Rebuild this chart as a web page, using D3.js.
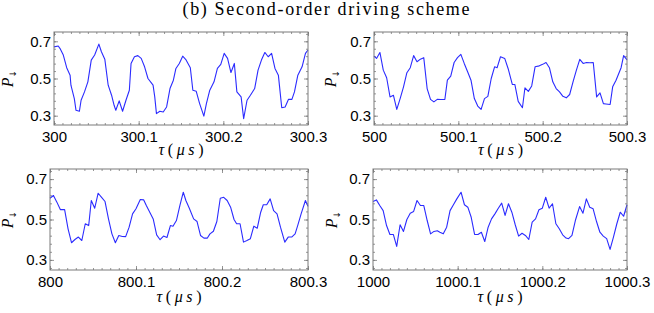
<!DOCTYPE html>
<html>
<head>
<meta charset="utf-8">
<script src="https://cdnjs.cloudflare.com/ajax/libs/d3/7.8.5/d3.min.js"></script>
<style>
body { margin: 0; background: #fff; }
</style>
</head>
<body>
<svg id="chart" width="654" height="313"></svg>
<script>
// tau offsets (us) from the panel start, and P_down
var starts = [300, 500, 800, 1000];
var xTickOffsets = [0, 0.1, 0.2, 0.3];
var xTickLabels = [
  ["300", "300.1", "300.2", "300.3"],
  ["500", "500.1", "500.2", "500.3"],
  ["800", "800.1", "800.2", "800.3"],
  ["1000", "1000.1", "1000.2", "1000.3"]
];
var yTicks = [0.3, 0.5, 0.7];
var yTickLabels = ["0.3", "0.5", "0.7"];
var title = "(b) Second-order driving scheme";

var t300 = [0, .005, .007, .011, .015, .019, .020, .024, .026, .030, .032, .036, .040, .044, .048, .053, .056, .060, .064, .068,
  .071, .073, .077, .081, .085, .089, .091, .095, .099, .103, .107, .111, .117, .119, .121, .125, .129, .133, .137, .141,
  .144, .148, .152, .156, .161, .164, .168, .172, .177, .180, .184, .189, .193, .197, .201, .205, .209, .213, .216, .221,
  .224, .228, .232, .237, .241, .245, .249, .253, .257, .261, .265, .269, .273, .277, .281, .284, .288, .293, .297, .300];
var p300 = [.67, .675, .662, .626, .558, .518, .464, .392, .329, .324, .383, .428, .482, .599, .626, .685, .644, .604, .464, .41,
  .356, .329, .38, .324, .383, .437, .581, .617, .623, .608, .563, .5, .464, .401, .311, .324, .32, .347, .446, .491,
  .554, .581, .62, .6, .558, .437, .431, .365, .298, .365, .437, .482, .554, .576, .635, .608, .532, .581, .428, .401,
  .284, .383, .41, .446, .545, .599, .64, .617, .635, .554, .518, .343, .347, .388, .388, .428, .518, .563, .635, .653];

var t500 = [0, .003, .007, .011, .015, .019, .023, .027, .031, .035, .039, .043, .047, .051, .055, .059, .063, .067, .071, .075,
  .079, .084, .087, .091, .095, .099, .103, .107, .111, .115, .119, .123, .127, .131, .135, .139, .143, .146, .150, .155,
  .159, .164, .167, .171, .176, .179, .183, .187, .191, .196, .200, .204, .208, .212, .216, .220, .224, .228, .232, .236,
  .240, .244, .248, .252, .256, .260, .264, .268, .272, .275, .280, .283, .287, .293, .296, .300];
var p500 = [.62, .608, .64, .545, .504, .401, .41, .334, .392, .455, .531, .558, .623, .59, .604, .612, .446, .388, .374, .388,
  .387, .387, .491, .513, .586, .612, .63, .581, .536, .491, .392, .352, .334, .392, .404, .5, .563, .558, .617, .608,
  .554, .468, .468, .377, .343, .45, .431, .46, .563, .568, .576, .586, .558, .482, .446, .428, .404, .396, .414, .482,
  .545, .603, .581, .586, .585, .586, .401, .423, .365, .363, .36, .455, .491, .558, .623, .6];

var t800 = [0, .004, .008, .012, .017, .021, .025, .029, .033, .037, .041, .045, .048, .052, .056, .060, .064, .068, .072, .076,
  .080, .084, .088, .092, .096, .100, .105, .109, .112, .116, .120, .124, .128, .132, .136, .140, .143, .147, .151, .155,
  .158, .162, .167, .171, .175, .179, .183, .186, .190, .194, .198, .202, .206, .210, .214, .217, .221, .225, .229, .233,
  .237, .241, .245, .248, .252, .256, .260, .264, .268, .273, .277, .281, .285, .288, .292, .297, .300];
var p800 = [.605, .619, .586, .549, .549, .454, .385, .401, .413, .396, .479, .47, .594, .556, .63, .61, .589, .503, .429, .385,
  .421, .416, .415, .462, .528, .553, .599, .597, .569, .536, .503, .424, .4, .418, .411, .47, .467, .495, .569, .635,
  .594, .556, .503, .49, .421, .408, .408, .429, .442, .49, .605, .61, .594, .561, .5, .479, .479, .388, .396, .405,
  .467, .457, .536, .573, .573, .602, .544, .528, .462, .388, .413, .413, .429, .47, .528, .594, .565];

var t1000 = [0, .004, .008, .012, .016, .020, .024, .028, .032, .036, .040, .044, .048, .052, .056, .060, .064, .068, .072, .076,
  .079, .083, .087, .091, .095, .099, .104, .108, .112, .116, .120, .124, .128, .132, .136, .140, .144, .148, .152, .156,
  .160, .164, .168, .172, .176, .180, .184, .188, .192, .196, .200, .204, .208, .212, .216, .220, .224, .228, .231, .235,
  .239, .244, .248, .252, .256, .260, .264, .268, .272, .276, .280, .284, .288, .292, .296, .300];
var p1000 = [.589, .597, .569, .544, .47, .426, .426, .367, .474, .441, .5, .531, .54, .594, .569, .569, .495, .429, .441, .444,
  .437, .429, .462, .544, .573, .602, .635, .573, .561, .511, .426, .426, .437, .391, .462, .503, .528, .556, .581, .52,
  .578, .536, .474, .418, .432, .421, .401, .487, .503, .548, .556, .61, .556, .578, .479, .454, .424, .408, .405, .421,
  .495, .564, .531, .602, .561, .553, .49, .437, .418, .405, .352, .413, .479, .536, .516, .573];

var series = [[t300, p300], [t500, p500], [t800, p800], [t1000, p1000]];

// panel boxes in the page
var boxes = [
  {left: 54, right: 308, top: 32, bottom: 125, labelX: 13, xLabelY: 155},
  {left: 374, right: 627, top: 32, bottom: 125, labelX: 336, xLabelY: 155},
  {left: 50, right: 308, top: 169, bottom: 270, labelX: 13, xLabelY: 302},
  {left: 373, right: 627, top: 169, bottom: 270, labelX: 337, xLabelY: 302}
];

var svg = d3.select("#chart");
var frameColor = "#7a7a7a";
var sansFont = "'Liberation Sans', Arial, sans-serif";
var serifFont = "'Liberation Serif', 'Times New Roman', serif";

svg.append("text")
  .attr("x", 326)
  .attr("y", 15)
  .attr("text-anchor", "middle")
  .attr("font-family", serifFont)
  .attr("font-size", 18)
  .attr("textLength", 287)
  .attr("lengthAdjust", "spacing")
  .text(title);

function drawPanel(k) {
  var b = boxes[k];
  var s0 = starts[k];
  var x = d3.scaleLinear().domain([s0, s0 + 0.3]).range([b.left, b.right]);
  var y = d3.scaleLinear().domain([0.25, 0.75]).range([b.bottom, b.top]);

  var g = svg.append("g");

  var minorX = d3.range(0, 31).map(function(i) { return s0 + i * 0.01; });
  var minorY = d3.range(0, 13).map(function(i) { return 0.26 + i * 0.04; });
  var majorX = xTickOffsets.map(function(d) { return s0 + d; });

  function styleAxis(sel) {
    sel.select(".domain").remove();
    sel.selectAll("line").attr("stroke", frameColor).attr("stroke-width", 0.8);
    sel.selectAll("text")
      .attr("fill", "#000")
      .attr("font-family", sansFont)
      .attr("font-size", 15);
  }

  // minor ticks on all four sides
  g.append("g").attr("transform", "translate(0," + b.bottom + ")")
    .call(d3.axisBottom(x).tickValues(minorX).tickSize(-2).tickFormat(""))
    .call(styleAxis);
  g.append("g").attr("transform", "translate(0," + b.top + ")")
    .call(d3.axisTop(x).tickValues(minorX).tickSize(-2).tickFormat(""))
    .call(styleAxis);
  g.append("g").attr("transform", "translate(" + b.left + ",0)")
    .call(d3.axisLeft(y).tickValues(minorY).tickSize(-2).tickFormat(""))
    .call(styleAxis);
  g.append("g").attr("transform", "translate(" + b.right + ",0)")
    .call(d3.axisRight(y).tickValues(minorY).tickSize(-2).tickFormat(""))
    .call(styleAxis);

  // major ticks with labels
  g.append("g").attr("transform", "translate(0," + b.bottom + ")")
    .call(d3.axisBottom(x).tickValues(majorX).tickSize(-4).tickPadding(6)
      .tickFormat(function(d, i) { return xTickLabels[k][i]; }))
    .call(styleAxis);
  g.append("g").attr("transform", "translate(0," + b.top + ")")
    .call(d3.axisTop(x).tickValues(majorX).tickSize(-4).tickFormat(""))
    .call(styleAxis);
  g.append("g").attr("transform", "translate(" + b.left + ",0)")
    .call(d3.axisLeft(y).tickValues(yTicks).tickSize(-4).tickPadding(3)
      .tickFormat(function(d, i) { return yTickLabels[i]; }))
    .call(styleAxis);
  g.append("g").attr("transform", "translate(" + b.right + ",0)")
    .call(d3.axisRight(y).tickValues(yTicks).tickSize(-4).tickFormat(""))
    .call(styleAxis);

  var ts = series[k][0], ps = series[k][1];
  var pts = ts.map(function(t, i) { return {tau: s0 + t, p: ps[i]}; });

  var line = d3.line()
    .x(function(d) { return x(d.tau); })
    .y(function(d) { return y(d.p); });

  g.append("path")
    .datum(pts)
    .attr("fill", "none")
    .attr("stroke", "#2b2bff")
    .attr("stroke-width", 1.1)
    .attr("stroke-linejoin", "round")
    .attr("d", line);

  g.append("rect")
    .attr("x", b.left)
    .attr("y", b.top)
    .attr("width", b.right - b.left)
    .attr("height", b.bottom - b.top)
    .attr("fill", "none")
    .attr("stroke", frameColor)
    .attr("stroke-width", 1);

  // x label: tau(mu s)
  var xl = g.append("text")
    .attr("x", (b.left + b.right) / 2)
    .attr("y", b.xLabelY)
    .attr("text-anchor", "middle")
    .attr("font-family", serifFont)
    .attr("font-size", 16)
    .attr("textLength", 45)
    .attr("lengthAdjust", "spacing");
  xl.append("tspan").attr("font-style", "italic").text("τ");
  xl.append("tspan").text("(");
  xl.append("tspan").attr("font-style", "italic").text("μs");
  xl.append("tspan").text(")");

  // y label: P with down-arrow subscript
  var yl = g.append("text")
    .attr("transform", "translate(" + b.labelX + "," + ((b.top + b.bottom) / 2) + ") rotate(-90)")
    .attr("text-anchor", "middle")
    .attr("font-family", serifFont)
    .attr("font-size", 16);
  yl.append("tspan").attr("font-style", "italic").text("P");
  yl.append("tspan")
    .attr("font-family", "'DejaVu Sans', sans-serif")
    .attr("font-size", 9)
    .attr("dy", 3)
    .text("↓");
}

for (var k = 0; k < boxes.length; k++) {
  drawPanel(k);
}
</script>
</body>
</html>
